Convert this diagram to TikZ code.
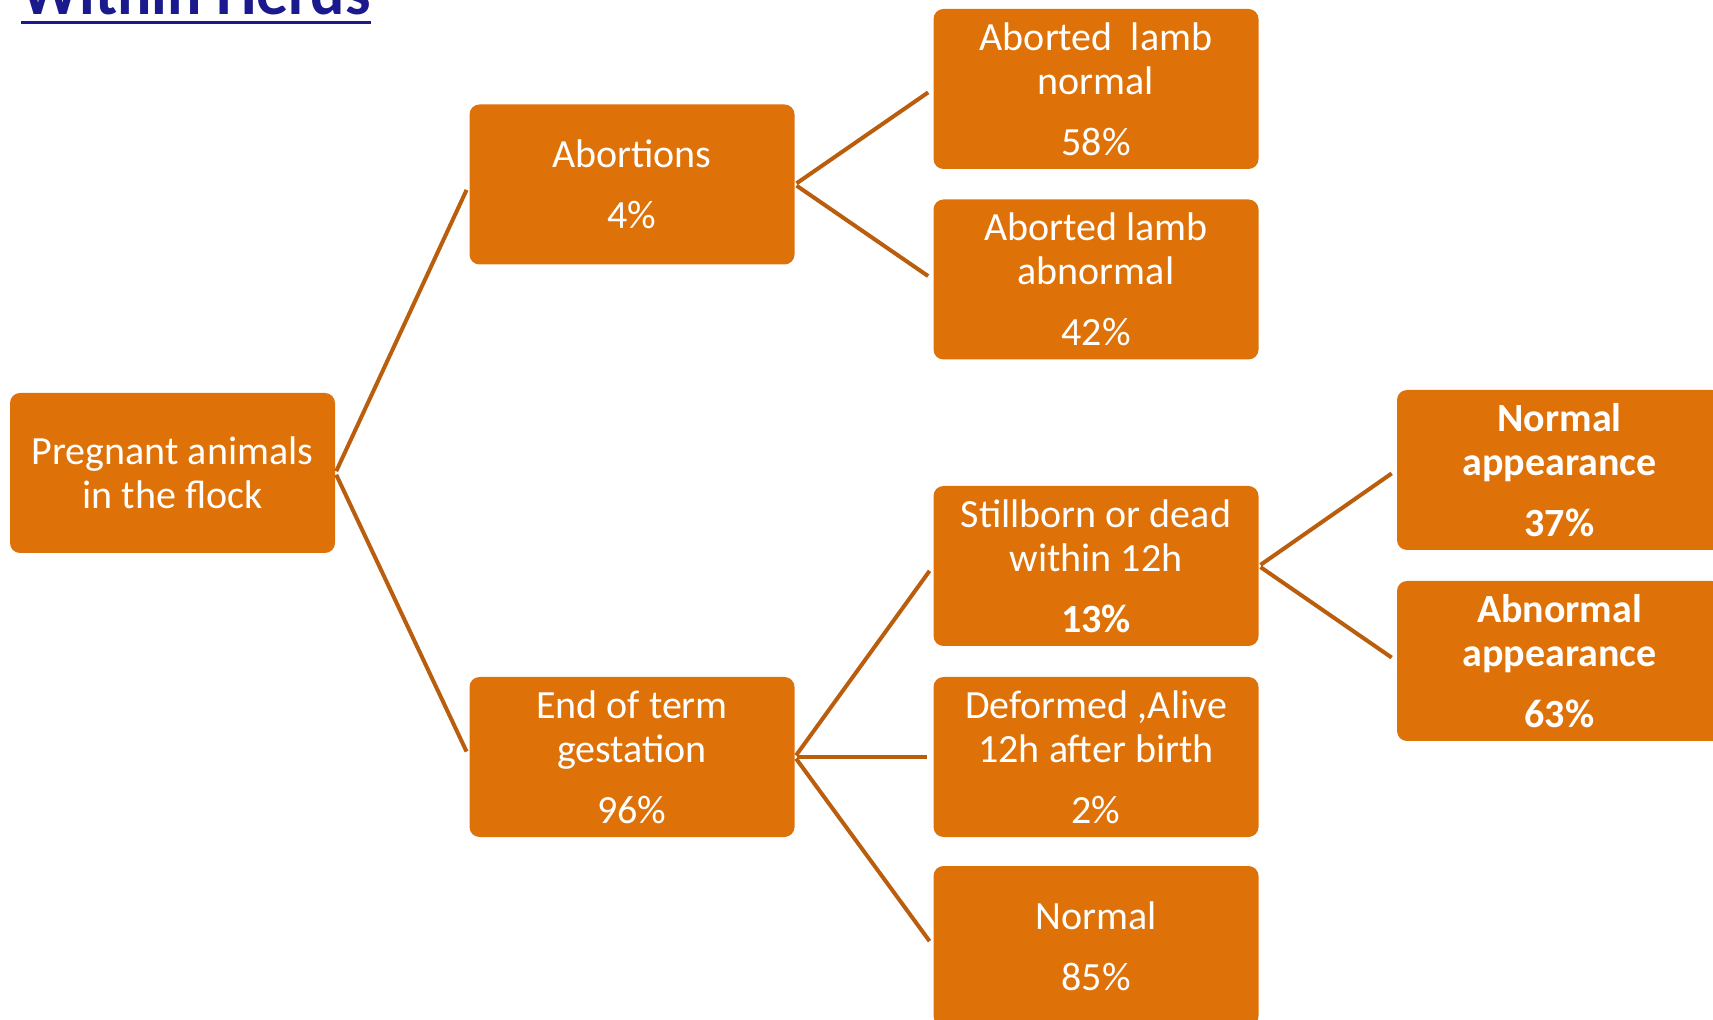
\documentclass[tikz,border=0pt]{standalone}
\usepackage{fontspec}
\setmainfont{Carlito}
\definecolor{boxfill}{HTML}{DE7108}
\definecolor{linkcol}{HTML}{BA5E0E}
\definecolor{titleblue}{HTML}{1A1A8E}
\begin{document}
\begin{tikzpicture}[x=0.5pt,y=-0.5pt,
  box/.style={fill=boxfill, rounded corners=5pt, minimum width=162.5pt, minimum height=80pt,
    text=white, align=center, font=\fontsize{20}{22}\selectfont, inner sep=0pt},
  boldbox/.style={box, font=\fontsize{20}{22}\selectfont\bfseries},
  link/.style={draw=linkcol, line width=2pt, shorten <=1pt, shorten >=3pt}]
\useasboundingbox (0,0) rectangle (1713,1020);
\clip (0,0) rectangle (1713,1020);
% title (cut off at the top)
\node[anchor=base west, font=\fontsize{32}{38}\selectfont\bfseries, text=titleblue, inner sep=0pt] (title) at (21,15) {Within Herds};
\fill[titleblue] (21,21) rectangle (371,24);
% boxes
\node[box] (root) at (172.5,473) {Pregnant animals\\in the flock};
\node[box] (abort) at (632,184.5) {Abortions\\[8.5pt]4\%};
\node[box] (endt) at (632,757) {End of term\\gestation\\[8.5pt]96\%};
\node[box] (an) at (1096,89) {Aborted\ \ lamb\\normal\\[8.5pt]58\%};
\node[box] (aa) at (1096,279.5) {Aborted lamb\\abnormal\\[8.5pt]42\%};
\node[box] (sb) at (1096,566) {Stillborn or dead\\within 12h\\[8.5pt]\textbf{13\%}};
\node[box] (df) at (1096,757) {Deformed ,Alive\\12h after birth\\[8.5pt]2\%};
\node[box] (nm) at (1096,946) {Normal\\[8.5pt]85\%};
\node[boldbox] (na) at (1559.5,470) {Normal\\appearance\\[8.5pt]37\%};
\node[boldbox] (ab) at (1559.5,661) {Abnormal\\appearance\\[8.5pt]63\%};
% connectors
\draw[link] (root.east) -- (abort.west);
\draw[link] (root.east) -- (endt.west);
\draw[link] (abort.east) -- (an.west);
\draw[link] (abort.east) -- (aa.west);
\draw[link] (endt.east) -- (sb.west);
\draw[link] (endt.east) -- (df.west);
\draw[link] (endt.east) -- (nm.west);
\draw[link] (sb.east) -- (na.west);
\draw[link] (sb.east) -- (ab.west);
\end{tikzpicture}
\end{document}
